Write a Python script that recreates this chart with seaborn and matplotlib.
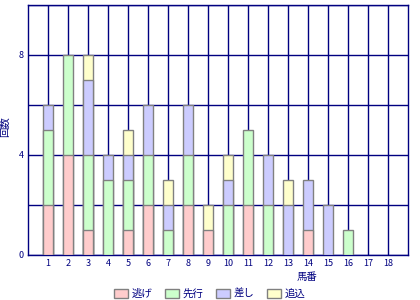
import numpy as np
import pandas as pd
import matplotlib
matplotlib.use("Agg")
import matplotlib.pyplot as plt
import seaborn as sns
from matplotlib.patches import Patch

categories = [str(i) for i in range(1, 19)]
nige   = [2, 4, 1, 0, 1, 2, 0, 2, 1, 0, 2, 0, 0, 1, 0, 0, 0, 0]
senko  = [3, 4, 3, 3, 2, 2, 1, 2, 0, 2, 3, 2, 0, 0, 0, 1, 0, 0]
sashi  = [1, 0, 3, 1, 1, 2, 1, 2, 0, 1, 0, 2, 2, 2, 2, 0, 0, 0]
oikomi = [0, 0, 1, 0, 1, 0, 1, 0, 1, 1, 0, 0, 1, 0, 0, 0, 0, 0]
series_names = ["逃げ", "先行", "差し", "追込"]
colors = ["#FFCCCC", "#CCFFCC", "#CCCCFF", "#FFFFCC"]
y_ticks = [0, 2, 4, 6, 8, 10]
y_labels = ["0", "", "4", "", "8", ""]

sns.set_style("white")
plt.rcParams["font.family"] = ["Noto Sans CJK JP", "DejaVu Sans"]
navy = "#000080"

fig = plt.figure(figsize=(4.2, 3.0), dpi=100)
ax = fig.add_axes([28/420, 45/300, 380/420, 250/300])

series = [nige, senko, sashi, oikomi]
cum = np.cumsum(np.array(series, dtype=float), axis=0)
# draw from top-most cumulative to bottom so lower segments overlay
for i in range(3, -1, -1):
    vals = cum[i].copy()
    seg = np.array(series[i], dtype=float)
    vals[seg == 0] = np.nan
    df = pd.DataFrame({"x": categories, "y": vals})
    sns.barplot(data=df, x="x", y="y", order=categories, color=colors[i],
                saturation=1, width=0.5, edgecolor="#808080", linewidth=1,
                errorbar=None, ax=ax, zorder=3)

ax.set_xlim(-1, 18)
ax.set_ylim(0, 10)
ax.set_yticks(y_ticks, labels=y_labels)
ax.set_xticks(range(18), labels=categories)
ax.grid(True, color=navy, linewidth=1)
ax.set_axisbelow(True)
ax.tick_params(axis="both", length=0, labelsize=6.5, colors=navy, pad=3)
for s in ax.spines.values():
    s.set_color(navy)
    s.set_linewidth(1)
ax.set_xlabel("")
ax.set_ylabel("")

fig.text(5/420, 1 - 127/300, "回数", rotation=90, ha="center", va="center",
         fontsize=7.5, color=navy)
fig.text(307/420, 1 - 277/300, "馬番", ha="center", va="center",
         fontsize=7.5, color=navy)

handles = [Patch(facecolor=c, edgecolor="#808080", linewidth=1) for c in colors]
leg = fig.legend(handles, series_names, loc="center", bbox_to_anchor=(0.5, 1 - 294/300),
                 ncol=4, frameon=False, fontsize=7.5, handlelength=1.3, handleheight=0.9,
                 handletextpad=0.4, columnspacing=1.2, borderpad=0)
for t in leg.get_texts():
    t.set_color(navy)

fig.savefig("out.png", dpi=100)
